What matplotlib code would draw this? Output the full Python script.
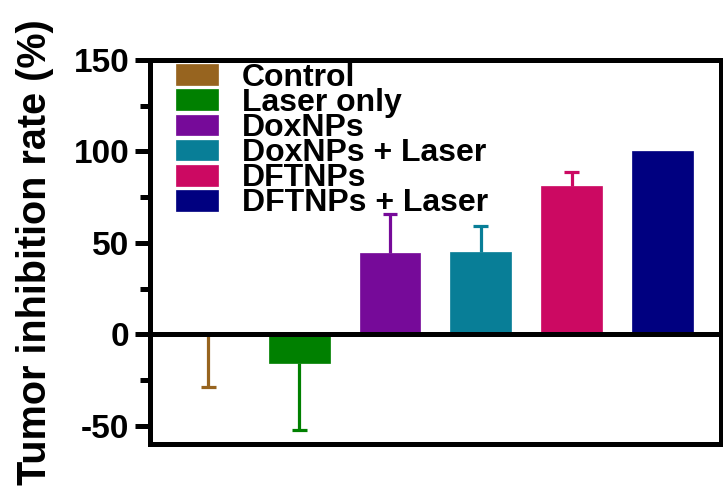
import matplotlib
matplotlib.use("Agg")
import matplotlib.pyplot as plt
from matplotlib.ticker import MultipleLocator

# Tumor inhibition rate per treatment group (mean and one-sided SD)
groups = ["Control", "Laser only", "DoxNPs", "DoxNPs + Laser", "DFTNPs", "DFTNPs + Laser"]
rates = [0.0, -15.5, 44.6, 45.2, 81.0, 100.0]
errors = [29.0, 36.8, 21.4, 13.8, 7.7, 0.0]
# +1: error bar drawn upward, -1: drawn downward
err_dir = [-1, -1, 1, 1, 1, 1]
colors = ["#97641F", "#008000", "#760A99", "#087E97", "#CC0962", "#000080"]

plt.rcParams["font.family"] = ["Liberation Sans", "DejaVu Sans"]
plt.rcParams["font.weight"] = "bold"
plt.rcParams["axes.unicode_minus"] = False

fig = plt.figure(figsize=(7.23, 4.87), dpi=100)
ax = fig.add_axes([0.2075, 0.088, 0.7895, 0.789])

lw = 3.6
bar_w = 0.67
cap_half = 0.082
for i, (v, e, d, c, g) in enumerate(zip(rates, errors, err_dir, colors, groups)):
    ax.bar(i, v, width=bar_w, color=c, edgecolor=c, linewidth=0.5, label=g, zorder=2)
    if e > 0:
        tip = v + d * e
        ax.vlines(i, v, tip, colors=c, linewidth=2.3, zorder=1)
        ax.hlines(tip, i - cap_half, i + cap_half, colors=c, linewidth=2.3, zorder=1)

ax.axhline(0, color="black", linewidth=lw, zorder=3)

ax.set_xlim(-0.64, 5.64)
ax.set_ylim(-60, 150)
ax.yaxis.set_major_locator(MultipleLocator(50))
ax.yaxis.set_minor_locator(MultipleLocator(25))
ax.set_xticks([])
ax.tick_params(axis="y", which="major", length=11, width=lw, labelsize=24, pad=4)
ax.tick_params(axis="y", which="minor", length=7, width=lw)
for lab in ax.get_yticklabels():
    lab.set_fontweight("bold")
for sp in ax.spines.values():
    sp.set_linewidth(lw)

ax.set_ylabel("Tumor inhibition rate (%)", fontsize=28.5, fontweight="bold", labelpad=14)

leg = ax.legend(loc="upper left", bbox_to_anchor=(0.04, 1.0), frameon=False,
                prop={"size": 23, "weight": "bold"}, labelspacing=-0.155,
                handlelength=1.3, handleheight=0.63, handletextpad=0.75,
                borderaxespad=0.0, borderpad=0.1)

fig.savefig("out.png", dpi=100)
